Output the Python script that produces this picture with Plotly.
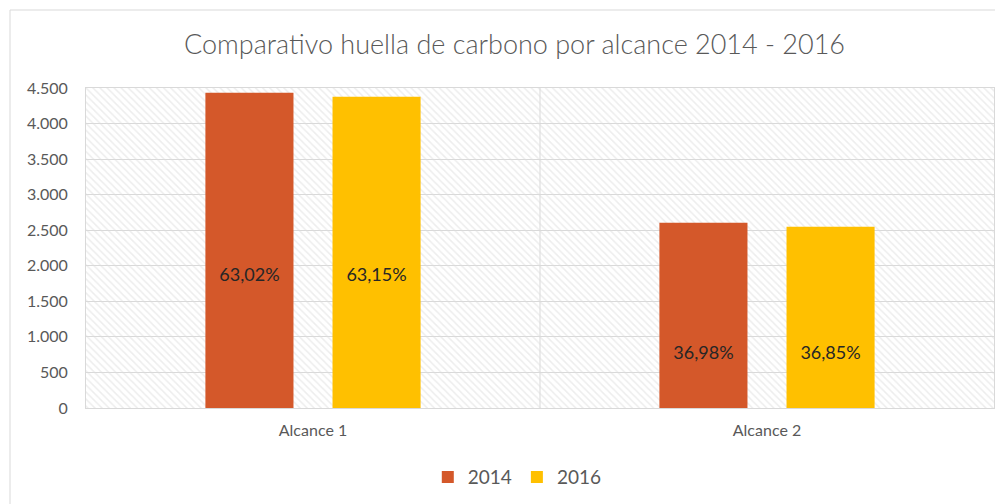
import plotly.graph_objects as go

categories = ["Alcance 1", "Alcance 2"]
years = ["2014", "2016"]
values_2014 = [4434, 2604]
values_2016 = [4377, 2548]
labels_2014 = ["63,02%", "36,98%"]
labels_2016 = ["63,15%", "36,85%"]
y_ticks = [0, 500, 1000, 1500, 2000, 2500, 3000, 3500, 4000, 4500]
y_ticktext = ["0", "500", "1.000", "1.500", "2.000", "2.500", "3.000", "3.500", "4.000", "4.500"]

colors = {"2014": "#D4582A", "2016": "#FFC000"}
grid = "#d9d9d9"
pos = list(range(len(categories)))
bar_w = 0.194
shift = 0.14

fig = go.Figure()

# hatched plot background, one block per category
fig.add_trace(go.Bar(
    x=pos, y=[y_ticks[-1]] * len(pos), width=1,
    marker=dict(color="rgba(0,0,0,0)", line_width=0,
                pattern=dict(shape="\\", fgcolor="#dcdcdc", bgcolor="rgba(0,0,0,0)",
                             size=5, solidity=0.3)),
    showlegend=False, hoverinfo="skip",
))

series = [("2014", values_2014, labels_2014, -shift), ("2016", values_2016, labels_2016, shift)]
for year, vals, labs, dx in series:
    fig.add_trace(go.Bar(
        x=pos, y=vals, name=year, width=bar_w, offset=dx - bar_w / 2,
        marker=dict(color=colors[year], line_width=0),
    ))

# data labels (placed like the original, not at bar middle)
label_y = [1844, 746]
for year, vals, labs, dx in series:
    fig.add_trace(go.Scatter(
        x=[p + dx for p in pos], y=label_y, text=labs, mode="text",
        textfont=dict(family="Lato", size=18, color="#262626"),
        showlegend=False, hoverinfo="skip",
    ))

fig.add_shape(type="line", x0=0.5, x1=0.5, y0=0, y1=y_ticks[-1],
              line=dict(color=grid, width=1), layer="below")
# outer chart frame
fig.add_shape(type="rect", xref="paper", yref="paper",
              x0=-76 / 908, x1=1.2, y0=-0.5, y1=398 / 320,
              line=dict(color=grid, width=1))

fig.update_layout(
    width=1003, height=504,
    barmode="overlay",
    paper_bgcolor="white", plot_bgcolor="white",
    margin=dict(l=78, r=17, t=80, b=104),
    title=dict(text="Comparativo huella de carbono por alcance 2014 - 2016",
               x=0.505, xanchor="center", y=0.927, yanchor="middle",
               font=dict(family="Lato", size=27, color="#595959", weight=300)),
    font=dict(family="Lato", color="#595959"),
    legend=dict(orientation="h", x=0.475, xanchor="center", y=-0.216, yanchor="middle",
                font=dict(size=19, color="#595959"), itemwidth=30, tracegroupgap=0),
    xaxis=dict(range=[-0.5, 1.5], tickvals=pos, ticktext=categories,
               showgrid=False, zeroline=False, showline=True, mirror=True,
               linecolor=grid, tickfont=dict(size=16, color="#595959"), ticks="",
               ticklabelstandoff=8),
    yaxis=dict(range=[0, y_ticks[-1]], tickvals=y_ticks, ticktext=y_ticktext,
               showgrid=True, gridcolor=grid, zeroline=False, showline=True,
               mirror=True, linecolor=grid, tickfont=dict(size=16, color="#595959"),
               ticks="", ticklabelstandoff=14),
)

fig.write_html("out.html")
